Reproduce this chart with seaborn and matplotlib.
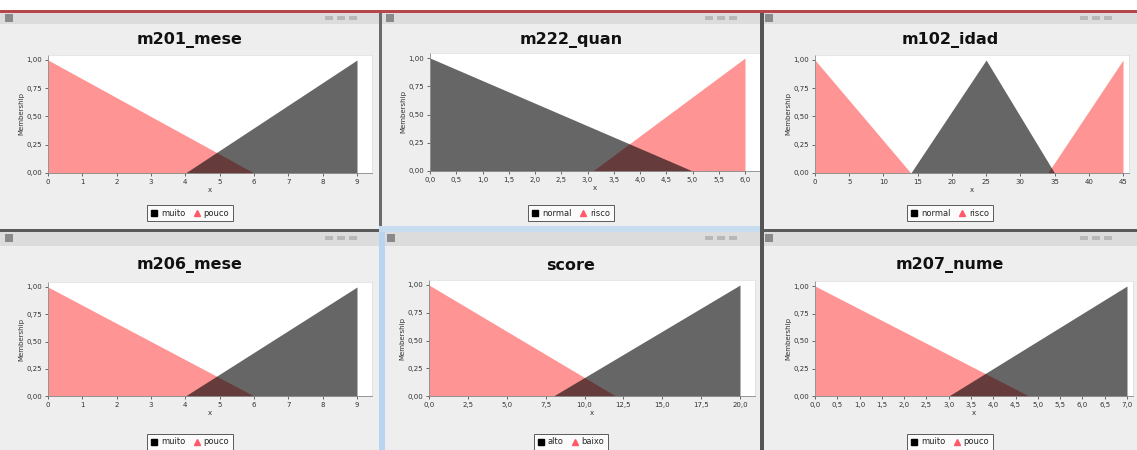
import matplotlib
matplotlib.use("Agg")
import matplotlib.pyplot as plt
import seaborn as sns
import numpy as np
from matplotlib.patches import Rectangle
from matplotlib.lines import Line2D

# ---- dados (funcoes de pertinencia) ----
titulos = ["m201_mese", "m222_quan", "m102_idad", "m206_mese", "score", "m207_nume"]
rotulos = [["muito", "pouco"], ["normal", "risco"], ["normal", "risco"],
           ["muito", "pouco"], ["alto", "baixo"], ["muito", "pouco"]]

# serie escura (1a da legenda)
escuro_x = [[4, 9], [0, 5], [14, 25, 35], [4, 9], [8, 20], [3, 7]]
escuro_y = [[0, 1], [1, 0], [0, 1, 0], [0, 1], [0, 1], [0, 1]]
# serie vermelha (2a da legenda), pode ter duas partes
vermelho_x = [[[0, 6]], [[3.1, 6]], [[0, 14], [34, 45]], [[0, 6]], [[0, 12]], [[0, 4.8]]]
vermelho_y = [[[1, 0]], [[0, 1]], [[1, 0], [0, 1]], [[1, 0]], [[1, 0]], [[1, 0]]]

# ticks do eixo x
ticks_x = [
    list(range(0, 10)),
    [i * 0.5 for i in range(13)],
    list(range(0, 50, 5)),
    list(range(0, 10)),
    [i * 2.5 for i in range(9)],
    [i * 0.5 for i in range(15)],
]
decimais = [0, 1, 0, 0, 1, 1]
ticks_y = [0, 0.25, 0.5, 0.75, 1.0]

# ---- layout (pixels da captura) ----
W, H = 1137, 450
# x do valor minimo, x do valor maximo, y do 1.0, y do 0
caixas = [(48, 357, 60, 173), (430, 745, 58, 171), (815, 1123, 60, 173),
          (48, 357, 287, 396), (429, 740, 285, 396), (815, 1127, 286, 396)]
folga = [0.048, 0.048, 0.02, 0.048, 0.048, 0.02]
centros_janela = [190, 571, 950, 190, 571, 950]
y_titulo = [40, 40, 40, 265, 265, 265]
y_legenda = [213, 213, 213, 442, 442, 442]

sns.set_theme(style="white")
plt.rcParams['font.family'] = ['DejaVu Sans']

fig = plt.figure(figsize=(W / 100, H / 100), dpi=100)
fig.patch.set_facecolor("#eeeeee")


def fx(x):
    return x / W


def fy(y):
    return 1 - y / H


def ret(x0, y0, x1, y1, cor, z=0):
    fig.patches.append(Rectangle((fx(x0), fy(y1)), fx(x1 - x0), (y1 - y0) / H,
                                 transform=fig.transFigure, facecolor=cor,
                                 edgecolor="none", zorder=z))


# moldura das janelas
ret(0, 0, W, 10, "white")
ret(0, 10, W, 13, "#b5474a")
ret(0, 13, W, 24, "#dcdcdc")
ret(0, 229, W, 232, "#5a5a5a")
ret(0, 232, W, 246, "#dcdcdc")
ret(379, 13, 382, 229, "#6a6a6a")
ret(760, 13, 764, 450, "#555555")
ret(379, 232, 385, 450, "#b8d4ee")
ret(379, 226, 760, 232, "#c8dcef")
for cx, ty in [(5, 14), (386, 14), (765, 14), (5, 234), (387, 234), (765, 234)]:
    ret(cx, ty, cx + 8, ty + 8, "#8a8a8a")
for bx in [345, 725, 1100]:
    for k in range(3):
        ret(bx + k * 12 - 20, 16, bx + k * 12 - 12, 20, "#b8b8b8")
        ret(bx + k * 12 - 20, 236, bx + k * 12 - 12, 240, "#b8b8b8")

for i in range(6):
    x0, x1, ytop, ybot = caixas[i]
    lo, hi = ticks_x[i][0], ticks_x[i][-1]
    pad = folga[i]
    larg = (x1 - x0) * (1 + pad)
    alt = (ybot - ytop) * 1.045
    ax = fig.add_axes([fx(x0), fy(ybot), larg / W, alt / H])
    ax.set_facecolor("white")

    for px, py in zip(vermelho_x[i], vermelho_y[i]):
        ax.fill_between(px, py, 0, color="#ff0000", alpha=0.42, lw=0)
    ax.fill_between(escuro_x[i], escuro_y[i], 0, color="black", alpha=0.6, lw=0)

    ax.set_xlim(lo, hi + (hi - lo) * pad)
    ax.set_ylim(0, 1.045)
    ax.set_xticks(ticks_x[i])
    fmt = "{:.%df}" % decimais[i]
    ax.set_xticklabels([fmt.format(v).replace(".", ",") for v in ticks_x[i]])
    ax.set_yticks(ticks_y)
    ax.set_yticklabels(["{:.2f}".format(v).replace(".", ",") for v in ticks_y])
    ax.tick_params(axis="both", labelsize=5, colors="#333333", length=2,
                   width=0.5, pad=2, bottom=True, left=True)
    ax.set_xlabel("x", fontsize=5, color="#333333", labelpad=2)
    ax.set_ylabel("Membership", fontsize=5, color="#333333", labelpad=2)
    for lado in ["top", "right"]:
        ax.spines[lado].set_color("#dddddd")
        ax.spines[lado].set_linewidth(0.5)
    for lado in ["left", "bottom"]:
        ax.spines[lado].set_color("#888888")
        ax.spines[lado].set_linewidth(0.6)

    fig.text(fx(centros_janela[i]), fy(y_titulo[i]), titulos[i], ha="center",
             va="center", fontsize=11.5, fontweight="bold", color="#111111")

    alcas = [Line2D([], [], ls="none", marker="s", ms=4, color="black"),
             Line2D([], [], ls="none", marker="^", ms=4.5, color="#ff5a6a")]
    leg = fig.legend(alcas, rotulos[i], loc="center", ncol=2,
                     bbox_to_anchor=(fx(centros_janela[i]), fy(y_legenda[i])),
                     fontsize=6, frameon=True, fancybox=False,
                     handlelength=0.8, handletextpad=0.4, columnspacing=1.0,
                     borderpad=0.45)
    leg.get_frame().set_edgecolor("#333333")
    leg.get_frame().set_linewidth(0.7)
    leg.get_frame().set_facecolor("white")

fig.savefig("out.png", dpi=100, facecolor=fig.get_facecolor())
